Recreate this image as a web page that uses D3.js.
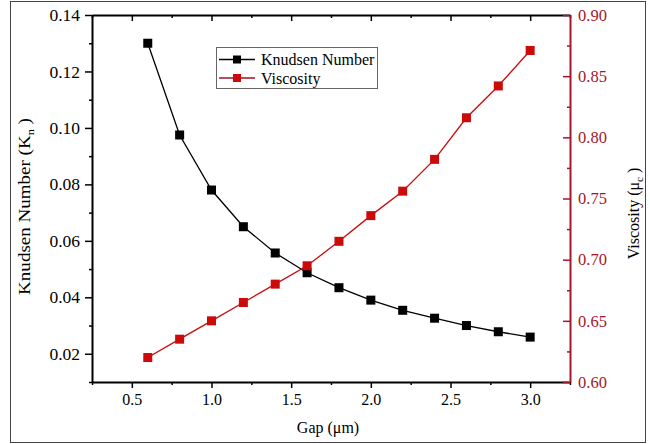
<!DOCTYPE html>
<html>
<head>
<meta charset="utf-8">
<script src="https://cdn.jsdelivr.net/npm/d3@7"></script>
<style>
  html, body { margin: 0; padding: 0; background: #fff; }
  svg { display: block; }
  svg text { font-family: "Liberation Serif", "Tinos", "Times New Roman", "Nimbus Roman", "DejaVu Serif", "Noto Serif", serif !important; }
</style>
</head>
<body>
<svg id="chart" width="650" height="444"></svg>
<script>
// ---- data ----
const gap = [0.6, 0.8, 1.0, 1.2, 1.4, 1.6, 1.8, 2.0, 2.2, 2.4, 2.6, 2.8, 3.0];
const knudsen = [0.130, 0.0975, 0.078, 0.065, 0.0557, 0.0487, 0.0434, 0.039, 0.0354, 0.0326, 0.030, 0.0278, 0.0259];
const viscosity = [0.620, 0.635, 0.650, 0.665, 0.680, 0.695, 0.715, 0.736, 0.756, 0.782, 0.816, 0.842, 0.871];
const xTicks = [0.5, 1.0, 1.5, 2.0, 2.5, 3.0];
const xMinor = [0.25, 0.75, 1.25, 1.75, 2.25, 2.75, 3.25];
const leftTicks = [0.02, 0.04, 0.06, 0.08, 0.10, 0.12, 0.14];
const leftMinor = [0.01, 0.03, 0.05, 0.07, 0.09, 0.11, 0.13];
const rightTicks = [0.60, 0.65, 0.70, 0.75, 0.80, 0.85, 0.90];
const rightMinor = [0.625, 0.675, 0.725, 0.775, 0.825, 0.875];
const seriesNames = ["Knudsen Number", "Viscosity"];

const black = "#000";
const red = "#cc0a0a";
const darkRed = "#a5162a";
const FONT = '"Liberation Serif", "Tinos", "Times New Roman", "Nimbus Roman", "DejaVu Serif", serif';

const svg = d3.select("#chart");
const L = 92, R = 570, T = 15, B = 382;

const x = d3.scaleLinear().domain([0.25, 3.25]).range([L, R]);
const yL = d3.scaleLinear().domain([0.01, 0.14]).range([B, T]);
const yR = d3.scaleLinear().domain([0.6, 0.9]).range([B, T]);

// outer frame
svg.append("rect").attr("x", 10.5).attr("y", 1.5).attr("width", 635).attr("height", 441)
  .attr("fill", "none").attr("stroke", "#444").attr("stroke-width", 1);

function styleAxis(g, color, fs) {
  g.attr("font-family", FONT);
  g.selectAll("path.domain").attr("stroke", color).attr("stroke-width", 2);
  g.selectAll(".tick line").attr("stroke", color).attr("stroke-width", 1.5);
  g.selectAll(".tick text").attr("fill", color).style("font-size", fs + "px");
}

// bottom axis
const gb = svg.append("g").attr("transform", `translate(0,${B})`)
  .call(d3.axisBottom(x).tickValues(xTicks).tickFormat(d3.format(".1f")).tickSizeInner(6).tickSizeOuter(0).tickPadding(6));
styleAxis(gb, black, 16);
const gbm = svg.append("g").attr("transform", `translate(0,${B})`)
  .call(d3.axisBottom(x).tickValues(xMinor).tickFormat("").tickSizeInner(3).tickSizeOuter(0));
styleAxis(gbm, black, 16);
gbm.select("path.domain").remove();

// top axis (inward ticks)
const gt = svg.append("g").attr("transform", `translate(0,${T})`)
  .call(d3.axisTop(x).tickValues(xTicks).tickFormat("").tickSizeInner(-6).tickSizeOuter(0));
styleAxis(gt, black, 16);
const gtm = svg.append("g").attr("transform", `translate(0,${T})`)
  .call(d3.axisTop(x).tickValues(xMinor).tickFormat("").tickSizeInner(-3).tickSizeOuter(0));
styleAxis(gtm, black, 16);
gtm.select("path.domain").remove();

// left axis
const gl = svg.append("g").attr("transform", `translate(${L},0)`)
  .call(d3.axisLeft(yL).tickValues(leftTicks).tickFormat(d3.format(".2f")).tickSizeInner(7).tickSizeOuter(0).tickPadding(5));
styleAxis(gl, black, 17.5);
const glm = svg.append("g").attr("transform", `translate(${L},0)`)
  .call(d3.axisLeft(yL).tickValues(leftMinor).tickFormat("").tickSizeInner(3).tickSizeOuter(0));
styleAxis(glm, black, 16);
glm.select("path.domain").remove();

// right axis (inward ticks, red)
const gr = svg.append("g").attr("transform", `translate(${R},0)`)
  .call(d3.axisRight(yR).tickValues(rightTicks).tickFormat(d3.format(".2f")).tickSizeInner(-7).tickSizeOuter(0).tickPadding(8));
styleAxis(gr, darkRed, 16.5);
const grm = svg.append("g").attr("transform", `translate(${R},0)`)
  .call(d3.axisRight(yR).tickValues(rightMinor).tickFormat("").tickSizeInner(-3).tickSizeOuter(0));
styleAxis(grm, darkRed, 16);
grm.select("path.domain").remove();

// lines
const lineK = d3.line().x((d, i) => x(gap[i])).y(d => yL(d));
const lineV = d3.line().x((d, i) => x(gap[i])).y(d => yR(d));
svg.append("path").datum(knudsen).attr("d", lineK).attr("fill", "none").attr("stroke", black).attr("stroke-width", 1.3);
svg.append("path").datum(viscosity).attr("d", lineV).attr("fill", "none").attr("stroke", red).attr("stroke-width", 1.3);

const ms = 9;
svg.append("g").selectAll("rect").data(knudsen).join("rect")
  .attr("x", (d, i) => x(gap[i]) - ms / 2).attr("y", d => yL(d) - ms / 2)
  .attr("width", ms).attr("height", ms).attr("fill", black);
svg.append("g").selectAll("rect").data(viscosity).join("rect")
  .attr("x", (d, i) => x(gap[i]) - ms / 2).attr("y", d => yR(d) - ms / 2)
  .attr("width", ms).attr("height", ms).attr("fill", red);

// axis titles
svg.append("text").attr("x", 328).attr("y", 433).attr("text-anchor", "middle")
  .attr("font-family", FONT).style("font-size", "16px").attr("fill", black).text("Gap (\u03bcm)");

const lt = svg.append("text").attr("transform", `translate(30,${(T + B) / 2 + 8}) rotate(-90) scale(1.12,1)`)
  .attr("font-family", FONT).attr("text-anchor", "middle").style("font-size", "17px").attr("fill", black);
lt.append("tspan").text("Knudsen Number (K");
lt.append("tspan").attr("dy", 4).style("font-size", "11px").text("n");
lt.append("tspan").attr("dy", -4).text(" )");

const rt = svg.append("text").attr("transform", `translate(639,${(T + B) / 2 + 15}) rotate(-90)`)
  .attr("font-family", FONT).attr("text-anchor", "middle").style("font-size", "16px").attr("fill", black);
rt.append("tspan").text("Viscosity (\u03bc");
rt.append("tspan").attr("dy", 4).style("font-size", "11px").text("c");
rt.append("tspan").attr("dy", -4).text(" )");

// legend
const lg = svg.append("g");
lg.append("rect").attr("x", 216.5).attr("y", 47.5).attr("width", 161).attr("height", 41)
  .attr("fill", "#fff").attr("stroke", "#666").attr("stroke-width", 1);
const legColors = [black, red];
const legLine = [black, "#a01020"];
seriesNames.forEach((name, i) => {
  const cy = 59.5 + i * 18.5;
  lg.append("line").attr("x1", 219).attr("x2", 255).attr("y1", cy).attr("y2", cy)
    .attr("stroke", legLine[i]).attr("stroke-width", 1.3);
  lg.append("rect").attr("x", 237 - 4).attr("y", cy - 4).attr("width", 8).attr("height", 8).attr("fill", legColors[i]);
  lg.append("text").attr("x", 261).attr("y", cy + 5.5).attr("font-family", FONT).style("font-size", "16px").attr("fill", black).text(name);
});
</script>
</body>
</html>
